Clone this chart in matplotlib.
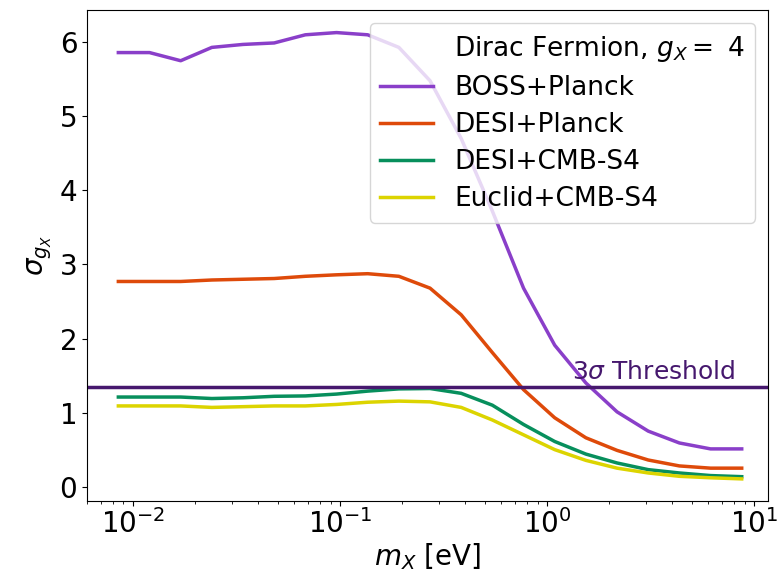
import numpy as np
import matplotlib
matplotlib.use("Agg")
import matplotlib.pyplot as plt

m_x = [0.0085 * 2 ** (i / 2) for i in range(21)]
boss_planck = [5.86, 5.86, 5.75, 5.93, 5.97, 5.99, 6.10, 6.13, 6.10, 5.93,
               5.48, 4.70, 3.72, 2.68, 1.91, 1.40, 1.01, 0.75, 0.59, 0.51, 0.51]
desi_planck = [2.77, 2.77, 2.77, 2.79, 2.80, 2.81, 2.84, 2.86, 2.875, 2.84,
               2.68, 2.32, 1.81, 1.31, 0.93, 0.66, 0.49, 0.36, 0.28, 0.25, 0.25]
desi_s4 = [1.21, 1.21, 1.21, 1.19, 1.20, 1.22, 1.225, 1.25, 1.29, 1.32,
           1.325, 1.26, 1.10, 0.84, 0.61, 0.44, 0.32, 0.23, 0.185, 0.15, 0.135]
euclid_s4 = [1.09, 1.09, 1.09, 1.07, 1.08, 1.09, 1.09, 1.11, 1.14, 1.155,
             1.145, 1.07, 0.90, 0.70, 0.50, 0.355, 0.25, 0.185, 0.14, 0.12, 0.105]
threshold = 1.34
labels = ["BOSS+Planck", "DESI+Planck", "DESI+CMB-S4", "Euclid+CMB-S4"]
colors = ["#8a3fc9", "#de4a0a", "#078f5c", "#dcd400"]

fig = plt.figure(figsize=(7.84, 5.83), dpi=100)
ax = fig.add_axes([0.111, 0.1407, 0.869, 0.8423])

ax.plot([], [], ' ', label=r"Dirac Fermion, $g_X = $ 4")
for ys, lab, c in zip([boss_planck, desi_planck, desi_s4, euclid_s4], labels, colors):
    ax.plot(m_x, ys, color=c, lw=2.5, label=lab)
ax.axhline(threshold, color="#46186e", lw=2.5)
ax.text(0.951, threshold + 0.04, r"3$\sigma$ Threshold", color="#46186e",
        fontsize=18, ha="right", va="bottom", transform=ax.get_yaxis_transform())

ax.set_xscale("log")
ax.set_xlim(0.006, 11.7)
ax.set_ylim(-0.193, 6.436)
ax.tick_params(labelsize=20)
ax.tick_params(axis="x", pad=2)
ax.set_xlabel(r"$m_X$ [eV]", fontsize=20, labelpad=2)
ax.set_ylabel(r"$\sigma_{g_X}$", fontsize=20)
ax.legend(loc="upper right", fontsize=19, handlelength=2.0, labelspacing=0.42)
fig.savefig("out.png", dpi=100)
